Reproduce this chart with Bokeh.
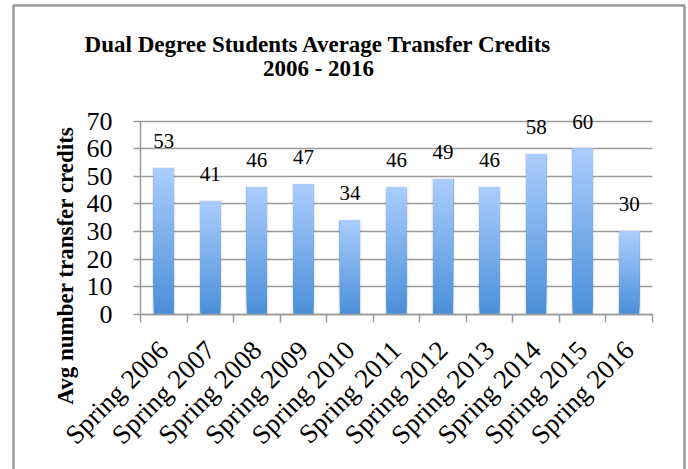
import numpy as np
from bokeh.plotting import figure
from bokeh.models import Range1d, LinearAxis, FixedTicker, BoxAnnotation
from bokeh.core.properties import value
from bokeh.embed import file_html
from bokeh.resources import INLINE

# ---- data ----
categories = ["Spring 2006", "Spring 2007", "Spring 2008", "Spring 2009", "Spring 2010",
              "Spring 2011", "Spring 2012", "Spring 2013", "Spring 2014", "Spring 2015",
              "Spring 2016"]
credits = [53, 41, 46, 47, 34, 46, 49, 46, 58, 60, 30]
y_ticks = [0, 10, 20, 30, 40, 50, 60, 70]
title_lines = ["Dual Degree Students Average Transfer Credits", "2006 - 2016"]
y_label = "Avg number transfer credits"

# ---- layout constants (page px; the plot frame covers the whole canvas) ----
W, H = 688, 469
AX_L, AX_R = 140, 652            # page x of category axis ends
ZERO_Y = 314                     # page y of value 0
PX_Y = 193.5 / 70.0              # px per value unit
PX_X = (AX_R - AX_L) / len(categories)

def dx(page_x):
    return (page_x - AX_L) / PX_X

def dy(page_y):
    return (ZERO_Y - page_y) / PX_Y

p = figure(width=W, height=H, x_range=Range1d(dx(0), dx(W)), y_range=Range1d(dy(H), dy(0)),
           output_backend="svg", toolbar_location=None, x_axis_type=None, y_axis_type=None,
           min_border=0)
p.title.visible = False
p.outline_line_color = None
p.background_fill_color = "white"
p.border_fill_color = "white"

GRAY = "#9a9a9a"

# ---- axes (fixed in place; y ticks run across as gridlines, drawn under the bars) ----
yaxis = LinearAxis(ticker=FixedTicker(ticks=y_ticks), bounds=(0, 70), fixed_location=0,
                   axis_line_color=GRAY, axis_line_width=1.5,
                   major_tick_line_color=GRAY, major_tick_line_width=1.5, major_tick_out=7,
                   major_tick_in=int(AX_R - AX_L), minor_tick_line_color=None,
                   major_label_text_font="Liberation Serif", major_label_text_font_size="26px",
                   major_label_text_color="black", major_label_standoff=21)
yaxis.level = "underlay"
p.add_layout(yaxis, "left")

centers = [i + 0.5 for i in range(len(categories))]
bounds_x = list(range(len(categories) + 1))
xaxis = LinearAxis(ticker=FixedTicker(ticks=centers, minor_ticks=bounds_x),
                   bounds=(0, len(categories)), fixed_location=0,
                   major_label_overrides={c: cat for c, cat in zip(centers, categories)},
                   axis_line_color=GRAY, axis_line_width=1.5,
                   major_tick_line_color=None, major_tick_out=8, major_tick_in=0,
                   minor_tick_line_color=GRAY, minor_tick_line_width=1.5, minor_tick_out=8,
                   minor_tick_in=0, major_label_orientation=np.pi / 4,
                   major_label_text_font="Liberation Serif", major_label_text_font_size="27px",
                   major_label_text_color="black", major_label_standoff=23)
p.add_layout(xaxis, "below")

# ---- bars with vertical gradient ----
BAR_W = 0.43
p.vbar(x=centers, top=[v + 0.4 for v in credits], bottom=0, width=BAR_W + 0.09,
       fill_color="black", fill_alpha=0.04, line_color=None)
p.vbar(x=centers, top=[v + 0.2 for v in credits], bottom=0, width=BAR_W + 0.05,
       fill_color="black", fill_alpha=0.05, line_color=None)

c_bot = np.array([0x4A, 0x8F, 0xD9])
c_top = np.array([0xAB, 0xCD, 0xFC])
N = 40
xs, bots, tops, cols = [], [], [], []
for k in range(N):                      # each slice runs to the bar top: no seams
    c = c_bot + (c_top - c_bot) * (k + 0.5) / N
    col = "#%02x%02x%02x" % tuple(int(round(t)) for t in c)
    for xc, v in zip(centers, credits):
        xs.append(xc)
        bots.append(v * k / N)
        tops.append(v)
        cols.append(col)
p.vbar(x=xs, bottom=bots, top=tops, width=BAR_W, fill_color=cols, line_color=None)

# data labels
p.text(x=centers, y=[v + 9.8 for v in credits], text=[str(v) for v in credits],
       text_font=value("Liberation Serif"), text_font_size="21px", text_align="center",
       text_baseline="middle", text_color="black")

# title
p.text(x=[dx(318), dx(318)], y=[dy(44), dy(68)], text=title_lines,
       text_font=value("Liberation Serif"), text_font_size="23px", text_font_style="bold",
       text_align="center", text_baseline="middle", text_color="black")

# y axis title
p.text(x=[dx(65)], y=[dy(265)], text=[y_label], angle=np.pi / 2,
       text_font=value("Liberation Serif"), text_font_size="23px", text_font_style="bold",
       text_align="center", text_baseline="middle", text_color="black")

# outer chart border
p.add_layout(BoxAnnotation(left=dx(13), right=dx(684), top=dy(5), bottom=dy(700),
                           fill_color=None, line_color="#999999", line_alpha=1.0, line_width=2.5))

open("out.html", "w").write(file_html(p, INLINE))
